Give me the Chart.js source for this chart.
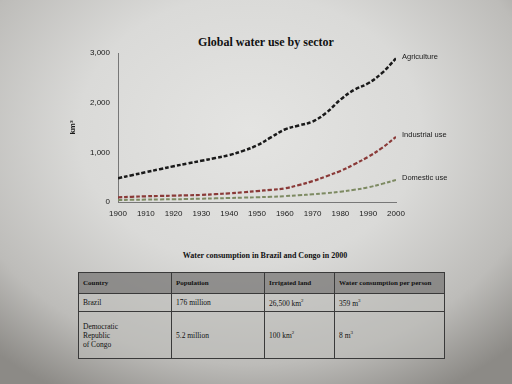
<!DOCTYPE html>
<html>
<head>
<meta charset="utf-8">
<script src="https://cdn.jsdelivr.net/npm/chart.js@4.4.0/dist/chart.umd.min.js"></script>
<style>
  html, body { margin: 0; padding: 0; }
  body {
    width: 512px; height: 384px; overflow: hidden; position: relative;
    background: radial-gradient(ellipse 380px 300px at 250px 130px, #e4e4e2 0%, #dadad8 45%, #bdbcb9 78%, #8c8a86 100%);
  }
  #wrap { position: absolute; left: 0; top: 0; width: 512px; height: 236px; }
  #title {
    position: absolute; left: 0; width: 532px; top: 35px; text-align: center;
    font: bold 12px "Liberation Serif", serif; color: #111;
  }
  #ttitle {
    position: absolute; left: 0; width: 530px; top: 251px; text-align: center;
    font: bold 8px "Liberation Serif", serif; color: #111;
  }
  table {
    position: absolute; left: 78px; top: 272px; width: 367px; height: 87px;
    border-collapse: collapse; font: 7.5px "Liberation Serif", serif; color: #111;
  }
  td { border: 1px solid #3a3a3a; padding: 0 4px; vertical-align: middle; background: rgba(190,189,186,0.55); }
  tr.head td { background: rgba(120,119,117,0.75); font-weight: bold; font-size: 7px; height: 20px; }
  tr.r1 td { height: 17px; }
  td sup { font-size: 5px; }
</style>
</head>
<body>
<div id="title">Global water use by sector</div>
<div id="wrap"><canvas id="chart" width="512" height="236"></canvas></div>
<div id="ttitle">Water consumption in Brazil and Congo in 2000</div>
<table>
  <tr class="head"><td style="width:84px">Country</td><td style="width:84px">Population</td><td style="width:61px">Irrigated land</td><td>Water consumption per person</td></tr>
  <tr class="r1"><td>Brazil</td><td>176 million</td><td>26,500 km<sup>2</sup></td><td>359 m<sup>3</sup></td></tr>
  <tr><td>Democratic<br>Republic<br>of Congo</td><td>5.2 million</td><td>100 km<sup>2</sup></td><td>8 m<sup>3</sup></td></tr>
</table>
<script>
var years = [1900, 1905, 1910, 1915, 1920, 1925, 1930, 1935, 1940, 1945, 1950,
             1955, 1960, 1965, 1970, 1975, 1980, 1985, 1990, 1995, 2000];
var agriculture = [480, 540, 600, 660, 720, 775, 830, 885, 945, 1030, 1140,
                   1300, 1460, 1540, 1620, 1800, 2060, 2260, 2390, 2600, 2890];
var industrial = [95, 105, 115, 122, 128, 135, 142, 158, 175, 195, 220,
                  245, 275, 340, 420, 520, 625, 760, 910, 1090, 1310];
var domestic = [40, 45, 48, 52, 55, 60, 67, 73, 80, 88, 95,
                105, 118, 135, 155, 178, 208, 245, 295, 365, 445];
var seriesNames = ['Agriculture', 'Industrial use', 'Domestic use'];
var yTicks = [0, 1000, 2000, 3000];

function pts(vals) {
  return years.map(function (y, i) { return { x: y, y: vals[i] }; });
}

// labels at the right end of each line
var endLabels = {
  id: 'endLabels',
  afterDatasetsDraw: function (chart) {
    var ctx = chart.ctx;
    ctx.save();
    ctx.font = '7.5px "Liberation Sans", sans-serif';
    ctx.fillStyle = '#1a1a1a';
    ctx.textBaseline = 'middle';
    chart.data.datasets.forEach(function (ds, i) {
      var meta = chart.getDatasetMeta(i);
      var last = meta.data[meta.data.length - 1];
      ctx.fillText(ds.label, last.x + 6, last.y - 2);
    });
    ctx.restore();
  }
};

new Chart(document.getElementById('chart'), {
  type: 'line',
  data: {
    datasets: [
      { label: seriesNames[0], data: pts(agriculture), borderColor: '#1a1a1a', borderWidth: 2.5, borderDash: [4, 2] },
      { label: seriesNames[1], data: pts(industrial), borderColor: '#8a3a38', borderWidth: 2.2, borderDash: [4, 2] },
      { label: seriesNames[2], data: pts(domestic), borderColor: '#7d8a62', borderWidth: 2, borderDash: [4, 2] }
    ]
  },
  options: {
    responsive: false,
    animation: false,
    layout: { padding: { left: 68, right: 116, top: 53, bottom: 10 } },
    elements: { point: { radius: 0 }, line: { tension: 0.4 } },
    plugins: { legend: { display: false }, tooltip: { enabled: false } },
    scales: {
      x: {
        type: 'linear', min: 1900, max: 2000,
        afterFit: function (s) { s.height = 24; },
        grid: { display: false, drawTicks: true, tickLength: 4, color: '#777' },
        border: { display: true, color: '#777', width: 1 },
        ticks: { stepSize: 10, padding: 3, color: '#1a1a1a', font: { size: 8, family: 'Liberation Sans' },
                 callback: function (v) { return String(v); } }
      },
      y: {
        min: 0, max: 3000,
        afterFit: function (s) { s.width = 50; },
        afterBuildTicks: function (s) { s.ticks = yTicks.map(function (v) { return { value: v }; }); },
        grid: { display: false, drawTicks: true, tickLength: 3, color: '#777' },
        border: { display: true, color: '#777', width: 1 },
        title: { display: true, text: 'km³', color: '#1a1a1a', font: { size: 8, weight: 'bold', family: 'Liberation Sans' }, padding: 0 },
        ticks: { padding: 5, color: '#1a1a1a', font: { size: 8, family: 'Liberation Sans' },
                 callback: function (v) { return v.toLocaleString('en-US'); } }
      }
    }
  },
  plugins: [endLabels]
});
</script>
</body>
</html>
